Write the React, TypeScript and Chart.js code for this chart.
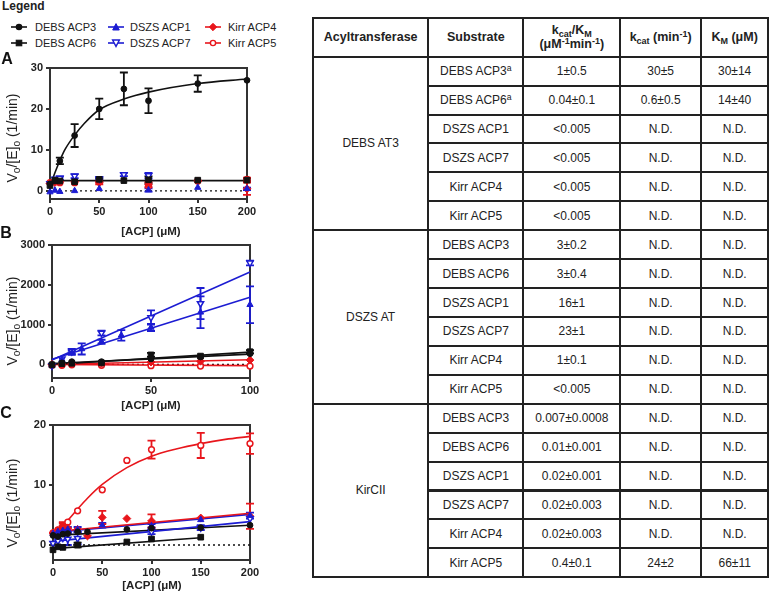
import React, { useEffect, useRef } from 'react';
import { Chart, registerables } from 'chart.js';
Chart.register(...registerables);

const FONT = '"Liberation Sans", Arial, sans-serif';
const BLACK = '#111111';
const BLUE = '#1c1cd2';
const RED = '#e8161c';
const AXIS = '#333333';

// ---------- Panel A (DEBS AT3) ----------
const A_X = [0, 5, 10, 25, 50, 75, 100, 150, 200];
const A_DEBS3 = [1.7, 2.4, 7.3, 13.5, 20.0, 24.9, 22.0, 26.2, 27.0];
const A_DEBS3_ERR = [0, 0, 0.8, 2.8, 2.5, 4.0, 3.0, 2.0, 0];
const A_DEBS6 = [1.3, 2.6, 2.4, 2.2, 2.8, 2.5, 2.7, 2.6, 2.6];
const A_DEBS6_ERR = [0, 0, 0, 0, 0.3, 0, 0.8, 0, 0.4];
const A_DSZS1 = [-0.3, 0.1, -0.2, 0.0, 0.5, null, 0.2, 0.8, 0.5];
const A_DSZS1_ERR = [0, 0, 0, 0, 0, 0, 0.4, 0, 0.3];
const A_DSZS7 = [1.8, 2.9, 3.1, 3.6, 3.0, 4.0, 3.7, null, null];
const A_DSZS7_ERR = [0, 0, 0.4, 0.5, 0.3, 0.4, 0.7, 0, 0];
const A_KIRR4 = [1.8, 2.0, 2.2, 2.2, 2.0, null, 1.5, 2.4, 0.5];
const A_KIRR4_ERR = [0, 0, 0, 0, 0.4, 0, 0.6, 0, 1.5];
const A_KIRR5 = [2.0, 2.3, 2.0, 2.0, 2.2, null, 1.2, 2.4, 2.8];
const A_KIRR5_ERR = [0, 0, 0, 0, 0, 0, 0, 0, 0.4];
const A_FIT3_X = [2.3, 5, 10, 15, 25, 35, 50, 75, 100, 150, 200];
const A_FIT3_Y = [2.7, 4.4, 7.4, 10.0, 13.6, 16.5, 19.8, 22.4, 24.1, 26.2, 27.3];
const A_FIT6_X = [0, 200];
const A_FIT6_Y = [2.5, 2.5];
const A_X_TICKS = [0, 50, 100, 150, 200];
const A_Y_TICKS = [0, 10, 20, 30];

// ---------- Panel B (DSZS AT) ----------
const B_X = [0, 5, 10, 15, 25, 35, 50, 75, 100];
const B_DEBS3 = [0, 40, 70, null, 70, null, 140, 190, 270];
const B_DEBS6 = [-10, 20, 30, null, 40, null, 240, 210, 320];
const B_DEBS6_ERR = [0, 0, 0, 0, 0, 0, 50, 0, 40];
const B_DSZS1 = [-20, 120, 290, 390, 570, 730, 930, 1310, 1500];
const B_DSZS1_ERR = [0, 0, 50, 140, 50, 130, 90, 400, 460];
const B_DSZS7 = [-30, 140, 330, null, 790, null, 1180, 1530, 2550];
const B_DSZS7_ERR = [0, 0, 60, 0, 60, 0, 180, 390, 60];
const B_KIRR4 = [0, 5, 15, null, 30, null, 60, 80, 110];
const B_KIRR5 = [-20, -20, -10, null, -20, null, -30, -40, -40];
const B_FIT_X = [0, 100];
const B_FIT_DEBS3 = [20, 260];
const B_FIT_DEBS6 = [0, 310];
const B_FIT_DSZS1 = [130, 1690];
const B_FIT_DSZS7 = [110, 2320];
const B_FIT_KIRR4 = [0, 120];
const B_FIT_KIRR5 = [0, -30];
const B_X_TICKS = [0, 50, 100];
const B_Y_TICKS = [0, 1000, 2000, 3000];

// ---------- Panel C (KirCII) ----------
const C_X = [0, 5, 10, 15, 25, 35, 50, 75, 100, 150, 200];
const C_DEBS3 = [1.6, 1.4, 1.8, 1.9, 2.2, 2.2, null, 2.6, 2.8, 2.9, 3.3];
const C_DEBS6 = [-0.8, -0.3, -0.4, null, 0.0, null, null, 0.5, 1.0, 1.3, null];
const C_DEBS6_ERR = [0, 0, 0, 0, 0.4, 0, 0, 0, 0, 0, 0];
const C_DSZS1 = [1.9, 2.2, 2.4, 2.6, 2.6, null, 3.3, null, 3.2, 4.2, 4.9];
const C_DSZS1_ERR = [0, 0, 0, 0.4, 0.4, 0, 0.4, 0, 0.3, 0, 0.5];
const C_DSZS7 = [0.3, 0.7, 1.2, 1.0, 1.1, null, null, null, 2.2, 2.9, 4.4];
const C_DSZS7_ERR = [0, 0, 0, 1.0, 1.0, 0, 0, 0, 0.4, 0.4, 0];
const C_KIRR4 = [2.0, 2.4, 3.2, 2.8, 2.6, 1.5, 4.6, 4.4, 4.0, 4.5, 4.8];
const C_KIRR4_ERR = [0, 0, 0.6, 0, 0, 0, 1.1, 0, 1.1, 0, 2.1];
const C_KIRR5 = [2.0, 2.5, 3.1, 3.8, 5.7, null, 9.2, 14.1, 15.9, 16.6, 16.9];
const C_KIRR5_ERR = [0, 0, 0.5, 0, 0, 0, 0, 0, 1.5, 2.1, 1.7];
const C_FIT5_X = [7, 10, 15, 25, 35, 50, 75, 100, 125, 150, 175, 200];
const C_FIT5_Y = [2.6, 3.2, 4.1, 6.0, 7.8, 10.1, 12.9, 14.8, 16.0, 16.9, 17.6, 18.1];
const C_FIT_X = [0, 200];
const C_FIT_DEBS3 = [1.6, 3.3];
const C_FIT_DSZS1 = [2.1, 5.1];
const C_FIT_DSZS7 = [0.6, 3.9];
const C_FIT_KIRR4 = [2.2, 5.3];
const C_FIT6_X = [0, 150];
const C_FIT_DEBS6 = [-0.6, 1.2];
const C_X_TICKS = [0, 50, 100, 150, 200];
const C_Y_TICKS = [0, 10, 20];

// ---------- Table ----------
const AT_NAMES = ['DEBS AT3', 'DSZS AT', 'KirCII'];
const SUBSTRATES = ['DEBS ACP3', 'DEBS ACP6', 'DSZS ACP1', 'DSZS ACP7', 'Kirr ACP4', 'Kirr ACP5'];
const KCAT_KM = ['1±0.5', '0.04±0.1', '<0.005', '<0.005', '<0.005', '<0.005',
  '3±0.2', '3±0.4', '16±1', '23±1', '1±0.1', '<0.005',
  '0.007±0.0008', '0.01±0.001', '0.02±0.001', '0.02±0.003', '0.02±0.003', '0.4±0.1'];
const KCAT = ['30±5', '0.6±0.5', 'N.D.', 'N.D.', 'N.D.', 'N.D.',
  'N.D.', 'N.D.', 'N.D.', 'N.D.', 'N.D.', 'N.D.',
  'N.D.', 'N.D.', 'N.D.', 'N.D.', 'N.D.', '24±2'];
const KM = ['30±14', '14±40', 'N.D.', 'N.D.', 'N.D.', 'N.D.',
  'N.D.', 'N.D.', 'N.D.', 'N.D.', 'N.D.', 'N.D.',
  'N.D.', 'N.D.', 'N.D.', 'N.D.', 'N.D.', '66±11'];
const FOOTNOTE_ROWS = [0, 1];

// ---------- helpers ----------
type Pt = { x: number; y: number; e: number };
function pts(xs: number[], ys: (number | null)[], errs?: number[]): Pt[] {
  const out: Pt[] = [];
  xs.forEach((x, i) => {
    const y = ys[i];
    if (y === null || y === undefined) return;
    out.push({ x, y, e: errs ? errs[i] : 0 });
  });
  return out;
}

function markers(xs: number[], ys: (number | null)[], errs: number[] | undefined, color: string, style: string, open: boolean, rotation = 0, radius = 4) {
  return {
    data: pts(xs, ys, errs),
    showLine: false,
    pointStyle: style,
    pointRadius: radius,
    pointHoverRadius: radius,
    pointBorderWidth: open ? 1.5 : 1,
    pointRotation: rotation,
    borderColor: color,
    backgroundColor: open ? '#ffffff' : color,
    clip: false,
    errs: true,
  };
}

function line(xs: number[], ys: number[], color: string, curved = false, dashed = false) {
  return {
    data: pts(xs, ys),
    showLine: true,
    pointRadius: 0,
    pointHoverRadius: 0,
    borderColor: color,
    backgroundColor: color,
    borderWidth: dashed ? 1.3 : 1.6,
    borderDash: dashed ? [2, 3] : [],
    tension: curved ? 0.4 : 0,
    cubicInterpolationMode: curved ? 'monotone' : 'default',
    clip: false,
  };
}

const errorBarPlugin = {
  id: 'errbars',
  beforeDatasetsDraw(chart: any) {
    const ctx = chart.ctx;
    const xs = chart.scales.x;
    const ys = chart.scales.y;
    chart.data.datasets.forEach((ds: any) => {
      if (!ds.errs) return;
      ctx.save();
      ctx.strokeStyle = ds.borderColor;
      ctx.lineWidth = 1.8;
      ds.data.forEach((p: Pt) => {
        if (!p.e) return;
        const px = xs.getPixelForValue(p.x);
        const y1 = ys.getPixelForValue(p.y + p.e);
        const y2 = ys.getPixelForValue(p.y - p.e);
        ctx.beginPath();
        ctx.moveTo(px, y1); ctx.lineTo(px, y2);
        ctx.moveTo(px - 4, y1); ctx.lineTo(px + 4, y1);
        ctx.moveTo(px - 4, y2); ctx.lineTo(px + 4, y2);
        ctx.stroke();
      });
      ctx.restore();
    });
  },
};

const framePlugin = {
  id: 'frame',
  beforeDatasetsDraw(chart: any) {
    const { left, top, right, bottom } = chart.chartArea;
    const ctx = chart.ctx;
    ctx.save();
    ctx.strokeStyle = AXIS;
    ctx.lineWidth = 2;
    ctx.strokeRect(left, top, right - left, bottom - top);
    ctx.restore();
  },
};

type PanelProps = {
  left: number; top: number; width: number; height: number;
  area: { l: number; t: number; r: number; b: number };
  xMin: number; xMax: number; xTicks: number[];
  yMin: number; yMax: number; yTicks: number[];
  datasets: any[];
};

function Panel(p: PanelProps) {
  const ref = useRef<HTMLCanvasElement>(null);
  useEffect(() => {
    if (!ref.current) return;
    const tickFont = { family: FONT, size: 11, weight: 'bold' as const };
    const grid = { display: true, drawOnChartArea: false, drawTicks: true, tickLength: 4, color: AXIS, lineWidth: 2 };
    const border = { display: true, color: AXIS, width: 2 };
    const chart = new Chart(ref.current, {
      type: 'scatter',
      data: { datasets: p.datasets },
      options: {
        animation: false,
        responsive: false,
        events: [],
        layout: { padding: { left: 0, top: p.area.t, right: p.width - p.area.r, bottom: 0 } },
        plugins: { legend: { display: false }, tooltip: { enabled: false } },
        scales: {
          x: {
            type: 'linear', min: p.xMin, max: p.xMax,
            afterBuildTicks: (s: any) => { s.ticks = p.xTicks.map((v) => ({ value: v })); },
            afterFit: (s: any) => { s.height = p.height - p.area.b; },
            grid, border,
            ticks: { font: tickFont, color: '#222', padding: 2, maxRotation: 0, autoSkip: false, callback: (v: any) => String(v) },
          },
          y: {
            type: 'linear', min: p.yMin, max: p.yMax,
            afterBuildTicks: (s: any) => { s.ticks = p.yTicks.map((v) => ({ value: v })); },
            afterFit: (s: any) => { s.width = p.area.l; },
            grid, border,
            ticks: { font: tickFont, color: '#222', padding: 3, autoSkip: false, callback: (v: any) => String(v) },
          },
        },
      } as any,
      plugins: [framePlugin, errorBarPlugin],
    });
    return () => chart.destroy();
  }, []);
  return (
    <canvas
      ref={ref}
      width={p.width}
      height={p.height}
      style={{ position: 'absolute', left: p.left, top: p.top, width: p.width, height: p.height }}
    />
  );
}

const R_CIRC = 2.9;
const R_RECT = 4.0;
const R_TRI = 3.6;
const R_DIA = 3.9;

function series6(xs: number[], d3: any, d3e: any, d6: any, d6e: any, s1: any, s1e: any, s7: any, s7e: any, k4: any, k4e: any, k5: any, k5e: any) {
  return [
    markers(xs, d3, d3e, BLACK, 'circle', false, 0, R_CIRC),
    markers(xs, d6, d6e, BLACK, 'rect', false, 0, R_RECT),
    markers(xs, s1, s1e, BLUE, 'triangle', false, 0, R_TRI),
    markers(xs, s7, s7e, BLUE, 'triangle', true, 180, R_TRI),
    markers(xs, k4, k4e, RED, 'rectRot', false, 0, R_DIA),
    markers(xs, k5, k5e, RED, 'circle', true, 0, R_CIRC),
  ];
}

const datasetsA = [
  ...series6(A_X, A_DEBS3, A_DEBS3_ERR, A_DEBS6, A_DEBS6_ERR, A_DSZS1, A_DSZS1_ERR, A_DSZS7, A_DSZS7_ERR, A_KIRR4, A_KIRR4_ERR, A_KIRR5, A_KIRR5_ERR),
  line(A_FIT3_X, A_FIT3_Y, BLACK, true),
  line(A_FIT6_X, A_FIT6_Y, BLACK),
  line([0, 200], [0, 0], BLACK, false, true),
];

const datasetsB = [
  ...series6(B_X, B_DEBS3, undefined, B_DEBS6, B_DEBS6_ERR, B_DSZS1, B_DSZS1_ERR, B_DSZS7, B_DSZS7_ERR, B_KIRR4, undefined, B_KIRR5, undefined),
  line(B_FIT_X, B_FIT_DSZS7, BLUE),
  line(B_FIT_X, B_FIT_DSZS1, BLUE),
  line(B_FIT_X, B_FIT_DEBS3, BLACK),
  line(B_FIT_X, B_FIT_DEBS6, BLACK),
  line(B_FIT_X, B_FIT_KIRR4, RED),
  line(B_FIT_X, B_FIT_KIRR5, RED),
  line([0, 100], [0, 0], BLACK, false, true),
];

const datasetsC = [
  ...series6(C_X, C_DEBS3, undefined, C_DEBS6, C_DEBS6_ERR, C_DSZS1, C_DSZS1_ERR, C_DSZS7, C_DSZS7_ERR, C_KIRR4, C_KIRR4_ERR, C_KIRR5, C_KIRR5_ERR),
  line(C_FIT5_X, C_FIT5_Y, RED, true),
  line(C_FIT_X, C_FIT_KIRR4, RED),
  line(C_FIT_X, C_FIT_DSZS1, BLUE),
  line(C_FIT_X, C_FIT_DSZS7, BLUE),
  line(C_FIT_X, C_FIT_DEBS3, BLACK),
  line(C_FIT6_X, C_FIT_DEBS6, BLACK),
  line([0, 200], [0, 0], BLACK, false, true),
];

function Marker({ shape, color, open }: { shape: string; color: string; open?: boolean }) {
  const fill = open ? '#fff' : color;
  let m: any = null;
  if (shape === 'circle') m = <circle cx={9} cy={5} r={2.6} fill={fill} stroke={color} strokeWidth={1.4} />;
  if (shape === 'square') m = <rect x={6.2} y={2.2} width={5.6} height={5.6} fill={fill} stroke={color} strokeWidth={1} />;
  if (shape === 'tri') m = <polygon points="9,1.6 12.3,8 5.7,8" fill={fill} stroke={color} strokeWidth={1} />;
  if (shape === 'itri') m = <polygon points="5.6,2 12.4,2 9,8.4" fill={fill} stroke={color} strokeWidth={1.4} />;
  if (shape === 'diamond') m = <polygon points="9,1.3 12.7,5 9,8.7 5.3,5" fill={fill} stroke={color} strokeWidth={1} />;
  return (
    <svg width={18} height={10} style={{ position: 'absolute', overflow: 'visible' }}>
      <line x1={1} y1={5} x2={17} y2={5} stroke={color} strokeWidth={1.6} />
      {m}
    </svg>
  );
}

const LEGEND_ITEMS = [
  { label: 'DEBS ACP3', shape: 'circle', color: BLACK, open: false, col: 0, row: 0 },
  { label: 'DEBS ACP6', shape: 'square', color: BLACK, open: false, col: 0, row: 1 },
  { label: 'DSZS ACP1', shape: 'tri', color: BLUE, open: false, col: 1, row: 0 },
  { label: 'DSZS ACP7', shape: 'itri', color: BLUE, open: true, col: 1, row: 1 },
  { label: 'Kirr ACP4', shape: 'diamond', color: RED, open: false, col: 2, row: 0 },
  { label: 'Kirr ACP5', shape: 'circle', color: RED, open: true, col: 2, row: 1 },
];
const LEG_MARK_X = [19, 116, 213];
const LEG_TEXT_X = [35, 130, 228];
const LEG_ROW_Y = [26.8, 42.5];

const sub: React.CSSProperties = { fontSize: '0.72em', position: 'relative', top: '0.3em', lineHeight: 0 };
const sup: React.CSSProperties = { fontSize: '0.72em', position: 'relative', top: '-0.45em', lineHeight: 0 };

function YTitle({ x, y }: { x: number; y: number }) {
  return (
    <div style={{ position: 'absolute', left: x, top: y, transform: 'translate(-50%,-50%) rotate(-90deg)', whiteSpace: 'nowrap', font: `14px ${FONT}`, color: '#222' }}>
      V<span style={sub}>o</span>/[E]<span style={sub}>o</span> (1/min)
    </div>
  );
}
function XTitle({ x, y }: { x: number; y: number }) {
  return (
    <div style={{ position: 'absolute', left: x, top: y, transform: 'translate(-50%,-50%)', whiteSpace: 'nowrap', font: `bold 11.5px ${FONT}`, color: '#222' }}>
      [ACP] (μM)
    </div>
  );
}
function Letter({ x, y, t }: { x: number; y: number; t: string }) {
  return (
    <div style={{ position: 'absolute', left: x, top: y, transform: 'translate(-50%,-50%)', font: `bold 16px ${FONT}`, color: '#111' }}>{t}</div>
  );
}

const COL_X = [313, 428.3, 523.3, 620.3, 701, 768.3];
const HEAD_TOP = 18.3;
const HEAD_BOTTOM = 56.7;
const ROW_H = 28.92;
const rowY = (k: number) => HEAD_BOTTOM + ROW_H * k;

function Cell({ x0, x1, y0, y1, children, bold }: any) {
  return (
    <div style={{
      position: 'absolute', left: x0 - 1, top: y0 - 1, width: x1 - x0 + 2, height: y1 - y0 + 2,
      border: '2px solid #222', boxSizing: 'border-box', display: 'flex', alignItems: 'center', justifyContent: 'center',
      textAlign: 'center', font: bold ? `bold 12.5px ${FONT}` : `12px ${FONT}`, color: '#222', lineHeight: '14px',
    }}><div>{children}</div></div>
  );
}

function Table() {
  const cells: any[] = [];
  const heads = [
    <>Acyltransferase</>,
    <>Substrate</>,
    <>k<span style={sub}>cat</span>/K<span style={sub}>M</span><br />(μM<span style={sup}>-1</span>min<span style={sup}>-1</span>)</>,
    <>k<span style={sub}>cat</span>&nbsp;(min<span style={sup}>-1</span>)</>,
    <>K<span style={sub}>M</span>&nbsp;(μM)</>,
  ];
  heads.forEach((h, c) => cells.push(<Cell key={'h' + c} bold x0={COL_X[c]} x1={COL_X[c + 1]} y0={HEAD_TOP} y1={HEAD_BOTTOM}>{h}</Cell>));
  AT_NAMES.forEach((n, g) => cells.push(<Cell key={'g' + g} x0={COL_X[0]} x1={COL_X[1]} y0={rowY(g * 6)} y1={rowY(g * 6 + 6)}>{n}</Cell>));
  for (let r = 0; r < 18; r++) {
    const s = SUBSTRATES[r % 6];
    cells.push(<Cell key={'s' + r} x0={COL_X[1]} x1={COL_X[2]} y0={rowY(r)} y1={rowY(r + 1)}>{s}{FOOTNOTE_ROWS.includes(r) ? <span style={sup}>a</span> : null}</Cell>);
    cells.push(<Cell key={'a' + r} x0={COL_X[2]} x1={COL_X[3]} y0={rowY(r)} y1={rowY(r + 1)}>{KCAT_KM[r]}</Cell>);
    cells.push(<Cell key={'b' + r} x0={COL_X[3]} x1={COL_X[4]} y0={rowY(r)} y1={rowY(r + 1)}>{KCAT[r]}</Cell>);
    cells.push(<Cell key={'c' + r} x0={COL_X[4]} x1={COL_X[5]} y0={rowY(r)} y1={rowY(r + 1)}>{KM[r]}</Cell>);
  }
  return <>{cells}</>;
}

export default function App() {
  return (
    <div style={{ position: 'fixed', left: 0, top: 0, width: 769, height: 600, background: '#fff', overflow: 'hidden', fontFamily: FONT }}>
      <div style={{ position: 'absolute', left: 2, top: 6, transform: 'translateY(-50%)', font: `bold 12px ${FONT}`, color: '#222' }}>Legend</div>
      {LEGEND_ITEMS.map((it) => (
        <React.Fragment key={it.label}>
          <div style={{ position: 'absolute', left: LEG_MARK_X[it.col] - 9, top: LEG_ROW_Y[it.row] - 5 }}>
            <Marker shape={it.shape} color={it.color} open={it.open} />
          </div>
          <div style={{ position: 'absolute', left: LEG_TEXT_X[it.col], top: LEG_ROW_Y[it.row], transform: 'translateY(-50%)', font: `11px ${FONT}`, color: '#222', whiteSpace: 'nowrap' }}>{it.label}</div>
        </React.Fragment>
      ))}

      <Panel left={0} top={55} width={265} height={170} area={{ l: 50, t: 13, r: 247, b: 144 }}
        xMin={0} xMax={200} xTicks={A_X_TICKS} yMin={-2} yMax={30} yTicks={A_Y_TICKS} datasets={datasetsA} />
      <Panel left={0} top={235} width={265} height={165} area={{ l: 52, t: 10, r: 250, b: 143 }}
        xMin={0} xMax={100} xTicks={B_X_TICKS} yMin={-340} yMax={3000} yTicks={B_Y_TICKS} datasets={datasetsB} />
      <Panel left={0} top={415} width={265} height={165} area={{ l: 53, t: 10, r: 250, b: 145 }}
        xMin={0} xMax={200} xTicks={C_X_TICKS} yMin={-2.5} yMax={20} yTicks={C_Y_TICKS} datasets={datasetsC} />

      <Letter x={7} y={59} t="A" />
      <Letter x={6} y={232.5} t="B" />
      <Letter x={6} y={412.5} t="C" />
      <YTitle x={12} y={138} />
      <YTitle x={12} y={321} />
      <YTitle x={12} y={503} />
      <XTitle x={151} y={231} />
      <XTitle x={151} y={405} />
      <XTitle x={152} y={585} />

      <Table />
    </div>
  );
}
